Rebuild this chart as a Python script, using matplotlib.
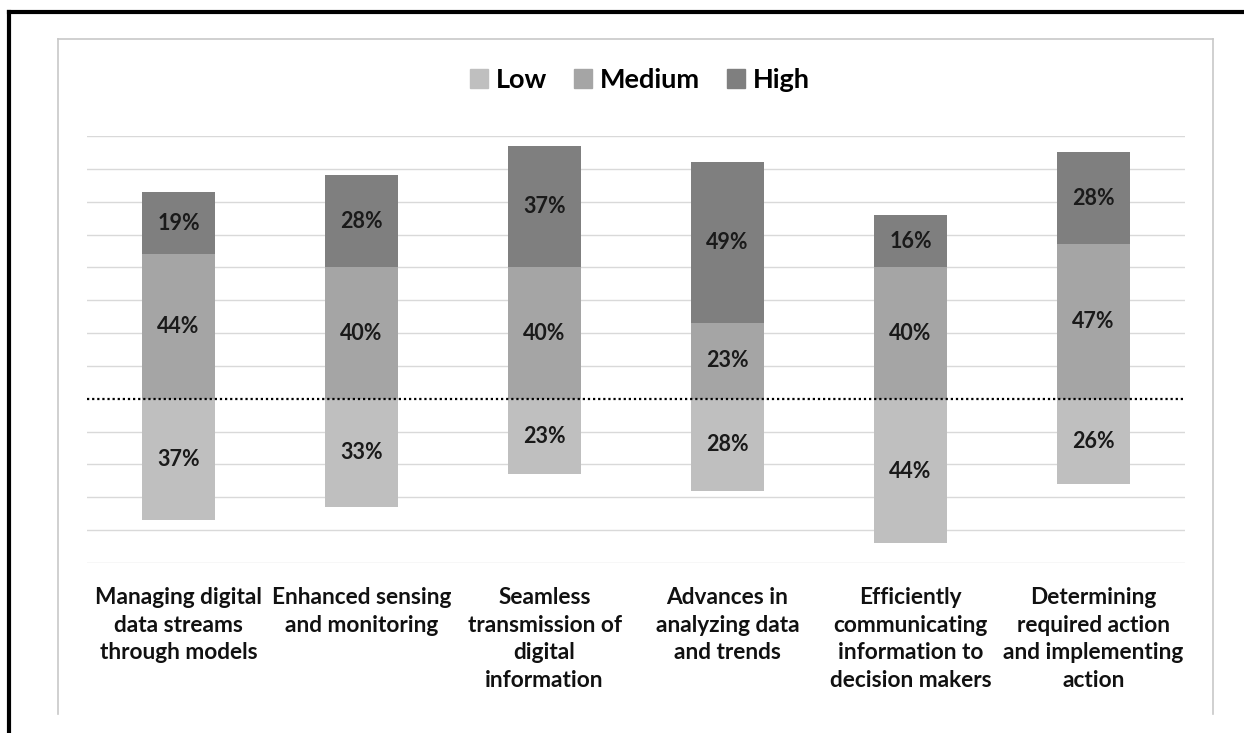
import numpy as np
import matplotlib
matplotlib.use('Agg')
import matplotlib.pyplot as plt
from matplotlib.lines import Line2D
from matplotlib.patches import Patch

plt.rcParams['font.family'] = ['Lato', 'DejaVu Sans']

categories = ['Managing digital\ndata streams\nthrough models',
              'Enhanced sensing\nand monitoring',
              'Seamless\ntransmission of\ndigital\ninformation',
              'Advances in\nanalyzing data\nand trends',
              'Efficiently\ncommunicating\ninformation to\ndecision makers',
              'Determining\nrequired action\nand implementing\naction']
low = [37, 33, 23, 28, 44, 26]
medium = [44, 40, 40, 23, 40, 47]
high = [19, 28, 37, 49, 16, 28]

c_low = '#BFBFBF'
c_med = '#A5A5A5'
c_high = '#7F7F7F'

fig = plt.figure(figsize=(12.44, 7.33), dpi=100)
ax = fig.add_axes([87/1244, 1-563/733, (1185-87)/1244, (563-136)/733])

x = np.arange(len(categories))
low_neg = -np.array(low)
med = np.array(medium)
hi = np.array(high)
w = 0.4

ax.bar(x, low_neg, w, color=c_low, zorder=3, label='Low')
ax.bar(x, med, w, color=c_med, zorder=3, label='Medium')
ax.bar(x, hi, w, bottom=med, color=c_high, zorder=3, label='High')

for i in range(len(x)):
    ax.text(x[i], low_neg[i]/2, str(low[i])+'%', ha='center', va='center',
            fontsize=15.5, fontweight='bold', color='#1a1a1a', zorder=4)
    ax.text(x[i], med[i]/2, str(medium[i])+'%', ha='center', va='center',
            fontsize=15.5, fontweight='bold', color='#1a1a1a', zorder=4)
    ax.text(x[i], med[i]+hi[i]/2, str(high[i])+'%', ha='center', va='center',
            fontsize=15.5, fontweight='bold', color='#1a1a1a', zorder=4)

ax.set_xlim(-0.5, len(x)-0.5)
ax.set_ylim(-50, 80)
ax.set_yticks([t for t in range(-50, 81, 10) if t != 0])
ax.yaxis.grid(True, color='#D9D9D9', linewidth=1.0, zorder=0)
ax.tick_params(axis='y', left=False, labelleft=False)
ax.axhline(0, color='black', linestyle=(0, (1, 1.3)), linewidth=1.6, zorder=5)
ax.set_xticks(x)
ax.set_xticklabels(categories, fontsize=16.3, fontweight='bold', color='#111111',
                   linespacing=1.38)
ax.tick_params(axis='x', bottom=False, pad=14)
for s in ax.spines.values():
    s.set_visible(False)

handles = [Patch(color=c_low), Patch(color=c_med), Patch(color=c_high)]
leg = fig.legend(handles, ['Low', 'Medium', 'High'], loc='center',
                 bbox_to_anchor=(640/1244, 1-80/733), ncol=3, frameon=False,
                 prop={'size': 19.5, 'weight': 'bold'}, handlelength=0.65,
                 handleheight=0.65, handletextpad=0.3, columnspacing=1.0)

# chart area frame (no bottom edge)
gc = '#C8C8C8'
fig.add_artist(Line2D([58/1244, 58/1244], [1-714/733, 1-39/733], color=gc, lw=1.2))
fig.add_artist(Line2D([58/1244, 1213/1244], [1-39/733, 1-39/733], color=gc, lw=1.2))
fig.add_artist(Line2D([1213/1244, 1213/1244], [1-39/733, 1-714/733], color=gc, lw=1.2))

# outer black border, left and top
fig.add_artist(Line2D([9/1244, 9/1244], [0, 1-12/733], color='black', lw=3.0,
                      solid_capstyle='projecting'))
fig.add_artist(Line2D([9/1244, 1], [1-12/733, 1-12/733], color='black', lw=3.0,
                      solid_capstyle='projecting'))

fig.savefig('out.png', dpi=100)
